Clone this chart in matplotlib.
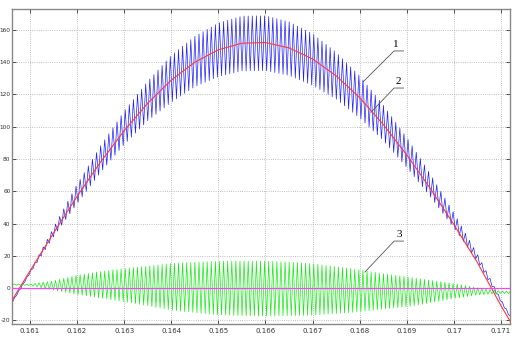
import numpy as np
import matplotlib
matplotlib.use('Agg')
import matplotlib.pyplot as plt

plt.rcParams['axes.unicode_minus'] = False

# knots (time in s)
t_knots = [0.1605, 0.1610, 0.1615, 0.1620, 0.1625, 0.1630, 0.1635, 0.1640,
           0.1645, 0.1650, 0.1655, 0.1660, 0.1665, 0.1670, 0.1675, 0.1680,
           0.1685, 0.1690, 0.1695, 0.1700, 0.1705, 0.1710, 0.1715]

# curve 2 (red, fundamental)
fundamental = [-13.3, 10.5, 34.0, 56.8, 78.1, 97.5, 114.6, 128.9,
               140.0, 147.7, 151.8, 152.2, 148.9, 142.0, 131.6, 118.0,
               101.4, 82.5, 61.6, 39.3, 15.7, -11.0, -36.0]

# curve 3 (green ripple): half peak-to-peak and centre line
ripple_amp = [0.3, 0.5, 2.8, 6.0, 8.2, 10.3, 12.2, 14.5,
              15.6, 16.6, 17.0, 17.0, 16.6, 16.0, 14.5, 13.0,
              11.0, 9.3, 7.0, 4.7, 2.2, 0.8, 0.5]
ripple_mid = [2.2, 2.0, 1.6, 2.0, 2.0, 1.8, 1.3, 0.8,
              0.4, 0.0, -0.2, -0.4, -0.5, -0.9, -1.3, -1.7,
              -2.1, -2.3, -2.2, -1.8, -2.1, -2.6, -2.8]

# curve 1 (blue) offset from curve 2
blue_shift = [-1.5, -1.0, 0.5, 1.5, 1.8, 1.8, 1.3, 0.8,
              0.4, 0.0, -0.2, -0.4, -0.5, -0.3, 0.0, 0.5,
              1.0, 1.5, 2.0, 2.5, 3.0, 3.0, 3.0]

ripple_period = 0.000087  # read from stroke spacing

x_ticks = [0.161, 0.162, 0.163, 0.164, 0.165, 0.166, 0.167, 0.168, 0.169, 0.17, 0.171]
x_labels = ['0.161', '0.162', '0.163', '0.164', '0.165', '0.166', '0.167',
            '0.168', '0.169', '0.17', '0.171']
y_ticks = [-20, 0, 20, 40, 60, 80, 100, 120, 140, 160]

# zigzag vertices every half period
t = np.arange(t_knots[0], t_knots[-1], ripple_period / 2)
sign = np.where(np.arange(len(t)) % 2 == 0, 1.0, -1.0)
amp = np.interp(t, t_knots, ripple_amp)
green = np.interp(t, t_knots, ripple_mid) + sign * amp
blue = np.interp(t, t_knots, fundamental) + np.interp(t, t_knots, blue_shift) + sign * amp

fig = plt.figure(figsize=(5.16, 3.51), dpi=100)
ax = fig.add_axes([12 / 516, 1 - 324 / 351, 498 / 516, 315 / 351])

ax.plot(t, blue, color='#2020ff', lw=0.5, zorder=2)
ax.plot(t, green, color='#10ee10', lw=0.5, zorder=2)
ax.plot(t_knots, fundamental, color='#ff3838', lw=0.8, zorder=3)
ax.axhline(0, color='#ff40ff', lw=0.9, zorder=3)

ax.set_xlim(0.16062, 0.17119)
ax.set_ylim(-22.3, 173)
ax.set_xticks(x_ticks)
ax.set_xticklabels(x_labels)
ax.set_yticks(y_ticks)
ax.tick_params(direction='in', length=3, width=0.6, colors='#333333',
               top=True, right=True)
ax.tick_params(axis='x', labelsize=5, pad=3)
ax.tick_params(axis='y', labelsize=4.2, pad=1)
ax.grid(True, linestyle=':', color='#aaaaaa', lw=0.6)
for s in ax.spines.values():
    s.set_color('#888888')
    s.set_linewidth(1.0)

# numbered callouts
callouts = [('1', 0.16877, 148.5, 147.0, 0.16807, 127.8),
            ('2', 0.16883, 125.5, 124.0, 0.16824, 109.0),
            ('3', 0.16883, 30.6, 29.1, 0.16811, 9.9)]
for txt, tx, ty, uy, ex, ey in callouts:
    ax.text(tx, ty, txt, family='Liberation Serif', fontsize=8,
            ha='center', va='bottom', zorder=5)
    ax.plot([ex, 0.16873, 0.16893], [ey, uy, uy], color='#555555', lw=0.6, zorder=5)

fig.savefig('out.png', dpi=100)
plt.close()
